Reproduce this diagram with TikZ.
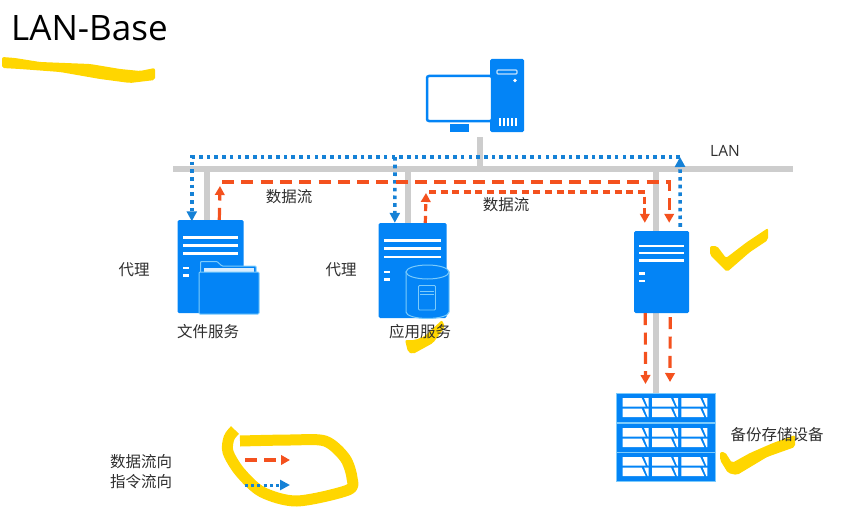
\documentclass[tikz,border=0pt]{standalone}
\usepackage{fontspec}
\setmainfont{Open Sans}
\newfontfamily\cjkfont{Noto Sans CJK SC}
\usetikzlibrary{arrows.meta,calc,backgrounds}
\definecolor{lanBlue}{HTML}{0384F6}
\definecolor{lanEdge}{HTML}{7CCBFB}
\definecolor{lanCmd}{HTML}{1581D6}
\definecolor{lanData}{HTML}{F4511E}
\definecolor{lanRule}{HTML}{CDCDCD}
\definecolor{lanInk}{HTML}{2E2E2E}
\definecolor{lanMark}{HTML}{FFD600}
% stripes on a server front: node, side inset, first stripe, stripe gap, first dash
\newcommand{\srvmarks}[5]{%
  \foreach \k in {0,1,2}
    \draw[white,line width=2.6] ($(#1.north west)+(#2,#3+\k*#4)$) -- ($(#1.north east)+(-#2,#3+\k*#4)$);
  \foreach \k in {0,1}
    \draw[white,line width=2.6] ($(#1.north west)+(#2,#5+\k*7.8)$) -- ++(6.5,0);
}
\begin{document}
\begin{tikzpicture}[
  x=1pt,y=-1pt,
  srv/.style={draw=none,fill=lanBlue,rounded corners=1.5pt,inner sep=0pt},
  unit/.style={fill=lanBlue,draw=lanEdge,line width=0.6pt,inner sep=0pt,minimum width=99pt,minimum height=29pt},
  bar/.style={lanRule,line width=6pt},
  lbl/.style={font=\cjkfont\fontsize{15.5}{18}\selectfont,text=lanInk,inner sep=0pt},
  cmdflow/.style={lanCmd,line width=3.6pt,dash pattern=on 3.6pt off 4.1pt,-{Triangle[length=10pt,width=10pt,sep=0pt]}},
  dataflow/.style={lanData,line width=3.2pt,dash pattern=on 12pt off 7.3pt,-{Triangle[length=9pt,width=9.5pt]}},
  denseflow/.style={dataflow,dash pattern=on 7pt off 4.6pt},
  marker/.style={lanMark,line width=11pt,line join=round},
  markfill/.style={fill=lanMark,rounded corners=2pt},
]
\useasboundingbox (0,0) rectangle (858,508);

% Computer
\node[srv,minimum width=34pt,minimum height=73pt] (tower) at (507,95.5) {};
\node[draw=lanBlue,fill=white,line width=2.5pt,rounded corners=2pt,inner sep=0pt,
      minimum width=65pt,minimum height=45pt] (screen) at (459.5,98.5) {};
\node[fill=lanBlue,inner sep=0pt,minimum width=19pt,minimum height=8pt] (stand) at (459,128) {};
\draw[white!75!lanBlue,line width=1.2pt,rounded corners=1pt] (497,70) rectangle (517,74);
\fill[white] (515,80.5) circle (1.8);
\foreach \x in {499.5,503.5,507.5,511.5,515.5}
  \draw[white,line width=2pt] (\x,118) -- (\x,126);

% Servers
\node[srv,minimum width=66pt,minimum height=93pt] (filesrv) at (210.5,266.5) {};
\node[srv,minimum width=68pt,minimum height=95pt] (appsrv) at (412.5,270.5) {};
\node[srv,minimum width=55pt,minimum height=82pt] (backupsrv) at (661.5,272) {};
\srvmarks{filesrv}{5.5}{17.5}{8}{48}
\srvmarks{appsrv}{5.5}{17.5}{8.3}{49}
\srvmarks{backupsrv}{5}{15}{7.2}{42.5}

% Folder on the file server
\draw[lanEdge,fill=lanBlue,line width=1pt,rounded corners=0.8pt]
  (200.5,272) -- (200.5,261.5) -- (217,261.5) -- (222,266) -- (256,266) -- (256,272);
\fill[white!85!lanBlue] (204,267.5) rectangle (254,272);
\node[draw=lanEdge,fill=lanBlue,line width=1pt,rounded corners=1pt,inner sep=0pt,
      minimum width=60pt,minimum height=42pt] (folder) at (229,293) {};

% Database on the application server
\draw[lanEdge,fill=lanBlue,line width=1pt]
  (406,272) -- (406,312) arc[start angle=180,end angle=360,x radius=21.5,y radius=-6.5]
  -- (449,272) -- cycle;
\draw[lanEdge,fill=lanBlue,line width=1pt] (427.5,272) ellipse (21.5 and 7);
\draw[lanEdge,line width=0.8pt,rounded corners=1pt] (418.5,285.5) rectangle (435.5,310);
\draw[lanEdge,line width=0.8pt] (420,291) -- (434,291) (420,294) -- (434,294);

% Storage
\node[unit] (storeA) at (665.5,408) {};
\node[unit] (storeB) at (665.5,438) {};
\node[unit] (storeC) at (665.5,467) {};
\foreach \unitname in {storeA,storeB,storeC} {
  \foreach \cellx in {0,29.3,58.6} {
    \foreach \celly in {0,10.5} {
      \begin{scope}[shift={($(\unitname.north west)+(7+\cellx,5+\celly)$)}]
        \fill[white] (0,0) -- (19,0) -- (23,8.5) -- (0,8.5) -- cycle;
        \fill[white] (21.5,0) -- (26,0) -- (26,8.5) -- (25,8.5) -- cycle;
      \end{scope}
    }
  }
}

% LAN
\begin{pgfonlayer}{background}
\coordinate (lanL) at (173,169);
\coordinate (lanR) at (793,169);
\coordinate (pcTap) at (480,137);
\draw[bar] (lanL) -- (lanR);
\draw[bar] (pcTap) -- (480,169);
\draw[bar] (207,169) -- (207,220);
\draw[bar] (408,169) -- (408,223);
\draw[bar] (656,169) -- (656,231);
\draw[bar] (656,313) -- (656,393);
\end{pgfonlayer}

% Marker strokes
\fill[markfill] (2,57) -- (15,58) -- (40,62) -- (90,64) -- (120,69) -- (140,71) -- (155,68)
  -- (155,80) -- (130,83) -- (100,79) -- (60,72) -- (20,69) -- (2,68) -- cycle;
\draw[marker] plot[smooth] coordinates {(240,441) (290,440) (325,441) (345,458) (352,478) (348,490) (297,501) (262,492) (240,472) (228,452) (229,438) (235,430)};
\fill[markfill] (710,246) -- (717,246) -- (726,258) -- (747,242) -- (768,228) -- (768,240)
  -- (750,252) -- (727,272) -- (710,255) -- cycle;
\fill[markfill] (405,340) -- (415,340) -- (425,336) -- (442,320) -- (445,327) -- (433,343)
  -- (413,354) -- (408,352) -- cycle;
\fill[markfill] (720,452) -- (725,452) -- (732,463) -- (750,453) -- (773,443) -- (795,435)
  -- (795,447) -- (767,457) -- (737,475) -- (728,473) -- (720,460) -- cycle;

% Instruction flow
\coordinate (cmdTR) at (680,157);
\coordinate (cmdMid) at (395,157);
\draw[cmdflow] ($(backupsrv.north east)+(-9,-4)$) -- (cmdTR);
\draw[cmdflow] (cmdTR) -| ($(filesrv.north west)+(14.5,1.5)$);
\draw[cmdflow] (cmdMid) -- ($(appsrv.north west)+(16.5,0)$);

% Data flow
\coordinate (dataA) at (222,182);
\coordinate (dataB) at (429,192);
\draw[dataflow] ($(filesrv.north west)+(42,0)$) -- (220,186);
\draw[dataflow] (dataA) -| ($(backupsrv.north east)+(-20,-8)$);
\draw[denseflow] ($(appsrv.north west)+(47,0)$) -- (426,193);
\draw[denseflow] (dataB) -| ($(backupsrv.north west)+(11,-8)$);
\draw[dataflow] ($(backupsrv.south west)+(11.5,0)$) -- (645.5,384);
\draw[dataflow] ($(backupsrv.south east)+(-19,4)$) -- (670,382);

% Labels
\node[font=\fontsize{35}{40}\selectfont,text=black,inner sep=0pt,anchor=west] (title) at (11,28) {LAN-Base};
\node[lbl,font=\fontsize{15.5}{18}\selectfont] (lanLabel) at (725,151) {LAN};
\node[lbl] (flowA) at (289,197) {数据流};
\node[lbl] (flowB) at (506,205) {数据流};
\node[lbl] (proxyA) at (134,270) {代理};
\node[lbl] (proxyB) at (341,270) {代理};
\node[lbl] (fileLabel) at (208,332) {文件服务};
\node[lbl] (appLabel) at (420,332) {应用服务};
\node[lbl] (storeLabel) at (777,435) {备份存储设备};

% Legend
\node[lbl] (keyData) at (141,462) {数据流向};
\node[lbl] (keyCmd) at (141,482) {指令流向};
\coordinate (keyDataR) at (290,460);
\coordinate (keyCmdR) at (290,485);
\draw[dataflow] (245,460) -- (keyDataR);
\draw[cmdflow,line width=3pt,dash pattern=on 3pt off 3.2pt] (245,485) -- (keyCmdR);
\end{tikzpicture}
\end{document}
